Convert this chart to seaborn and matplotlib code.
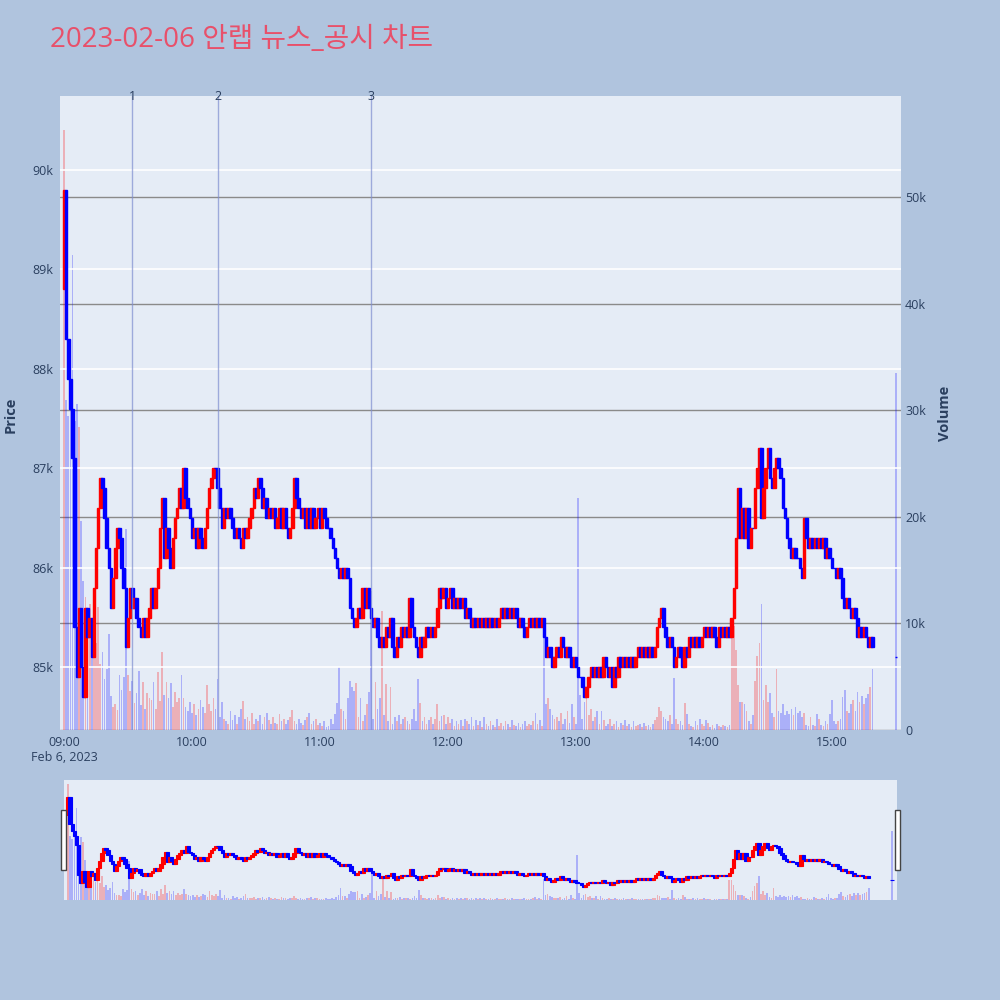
import numpy as np
import pandas as pd
import matplotlib
matplotlib.use('Agg')
import matplotlib.pyplot as plt
import seaborn as sns
from matplotlib.patches import Rectangle

TITLE = '2023-02-06 안랩 뉴스_공시 차트'

# minute bars from 09:00, prices in hundreds of won
first_open = 888
closes = [
  898, 883, 879, 876, 871, 854, 849, 856, 850, 847,
  856, 853, 855, 851, 858, 862, 866, 869, 868, 865,
  862, 860, 856, 859, 862, 864, 863, 860, 858, 852,
  855, 858, 856, 857, 855, 854, 853, 855, 853, 855,
  856, 858, 856, 858, 860, 864, 867, 861, 864, 862,
  860, 863, 865, 866, 868, 866, 870, 867, 866, 865,
  863, 864, 862, 864, 863, 862, 864, 866, 868, 869,
  870, 870, 868, 866, 864, 866, 865, 866, 865, 864,
  863, 864, 863, 862, 864, 863, 864, 865, 866, 868,
  867, 869, 868, 866, 867, 865, 866, 865, 866, 864,
  865, 866, 864, 866, 864, 863, 864, 866, 869, 867,
  866, 865, 866, 864, 866, 864, 866, 864, 865, 866,
  864, 866, 865, 864, 864, 863, 862, 861, 860, 859,
  860, 859, 860, 859, 856, 855, 854, 855, 856, 855,
  858, 856, 858, 856, 855, 854, 855, 853, 852, 853,
  852, 854, 853, 855, 852, 851, 853, 852, 854, 853,
  854, 853, 857, 854, 853, 852, 851, 853, 852, 853,
  854, 853, 854, 853, 854, 856, 858, 857, 858, 856,
  857, 858, 856, 857, 856, 857, 856, 857, 855, 856,
  855, 854, 855, 854, 855, 854, 855, 854, 855, 854,
  855, 854, 855, 854, 855, 856, 855, 856, 855, 856,
  855, 856, 855, 854, 855, 854, 853, 854, 855, 854,
  855, 854, 855, 854, 855, 853, 851, 852, 851, 850,
  851, 852, 851, 853, 852, 851, 852, 851, 850, 851,
  850, 849, 849, 848, 847, 848, 849, 850, 849, 850,
  849, 850, 849, 851, 850, 849, 850, 848, 850, 849,
  851, 850, 851, 850, 851, 850, 851, 850, 851, 852,
  851, 852, 851, 852, 851, 852, 851, 852, 854, 855,
  856, 854, 853, 852, 853, 852, 850, 851, 852, 851,
  850, 852, 851, 853, 852, 853, 852, 853, 852, 853,
  854, 853, 854, 853, 854, 853, 852, 854, 853, 854,
  853, 854, 853, 855, 858, 863, 868, 863, 866, 863,
  866, 862, 864, 864, 868, 870, 872, 865, 868, 870,
  872, 869, 868, 870, 871, 870, 869, 866, 865, 863,
  862, 861, 862, 861, 861, 860, 859, 865, 863, 862,
  863, 862, 863, 862, 863, 862, 863, 861, 862, 861,
  860, 860, 859, 860, 859, 857, 856, 857, 856, 855,
  856, 855, 853, 854, 853, 854, 853, 852, 853, 852,
]
# volume in hundreds of shares
volumes = [
  563, 310, 295, 320, 446, 290, 306, 284, 196, 140,
  125, 110, 118, 90, 108, 82, 115, 62, 73, 48,
  57, 90, 32, 22, 24, 19, 52, 38, 50, 189,
  52, 37, 46, 25, 35, 55, 23, 45, 20, 35,
  30, 28, 45, 20, 54, 27, 73, 33, 45, 30,
  44, 22, 36, 26, 30, 52, 30, 22, 18, 26,
  16, 24, 14, 20, 28, 22, 16, 42, 24, 18,
  30, 20, 48, 12, 26, 10, 8, 6, 18, 9,
  14, 6, 12, 20, 27, 10, 12, 8, 16, 6,
  10, 8, 14, 6, 12, 16, 9, 6, 12, 7,
  6, 15, 8, 10, 6, 9, 12, 19, 8, 6,
  10, 7, 5, 9, 12, 16, 6, 8, 10, 5,
  7, 4, 8, 3, 4, 10, 6, 15, 25, 59,
  20, 18, 10, 30, 46, 40, 37, 44, 12, 30,
  8, 14, 24, 36, 130, 10, 45, 20, 30, 112,
  14, 43, 8, 40, 6, 12, 8, 14, 6, 10,
  12, 8, 6, 10, 20, 8, 48, 25, 8, 12,
  6, 9, 12, 6, 10, 24, 8, 13, 14, 6,
  12, 7, 10, 4, 8, 6, 9, 4, 10, 8,
  6, 12, 4, 9, 5, 8, 3, 12, 6, 4,
  8, 5, 3, 10, 4, 7, 4, 8, 6, 3,
  9, 5, 4, 7, 3, 6, 8, 4, 6, 5,
  8, 16, 6, 9, 4, 100, 24, 30, 20, 14,
  10, 12, 8, 16, 6, 10, 18, 7, 24, 12,
  6, 218, 33, 10, 26, 30, 14, 20, 8, 12,
  18, 6, 18, 9, 4, 6, 10, 4, 6, 8,
  3, 7, 5, 9, 4, 6, 3, 8, 4, 5,
  6, 3, 7, 4, 5, 3, 6, 9, 12, 22,
  18, 12, 10, 8, 14, 6, 49, 10, 6, 8,
  5, 25, 15, 6, 4, 3, 8, 5, 10, 6,
  4, 9, 7, 3, 5, 2, 6, 4, 3, 5,
  4, 3, 5, 96, 98, 75, 42, 26, 26, 24,
  18, 8, 6, 14, 46, 69, 82, 118, 28, 42,
  26, 35, 16, 12, 57, 18, 16, 24, 14, 18,
  15, 20, 14, 22, 16, 18, 12, 16, 5, 4,
  12, 5, 4, 15, 10, 5, 4, 8, 6, 15,
  28, 8, 6, 8, 10, 31, 38, 18, 16, 24,
  28, 18, 36, 26, 32, 24, 30, 34, 40, 57,
]
# closing auction at 15:30
auction_minute = 390
auction_price = 851
auction_volume = 335

news_minutes = [32, 72, 144]
news_labels = ['1', '2', '3']

hour_ticks = [0, 60, 120, 180, 240, 300, 360]
hour_labels = ['09:00', '10:00', '11:00', '12:00', '13:00', '14:00', '15:00']
date_label = 'Feb 6, 2023'
price_ticks = [85000, 86000, 87000, 88000, 89000, 90000]
volume_ticks = [0, 10000, 20000, 30000, 40000, 50000]

assert len(closes) == len(volumes)

df = pd.DataFrame({'minute': np.arange(len(closes)), 'close': closes, 'volume': volumes})
df['open'] = df['close'].shift(1).fillna(first_open)
df = pd.concat([df, pd.DataFrame({'minute': [auction_minute], 'close': [auction_price],
                                  'volume': [auction_volume], 'open': [auction_price]})],
               ignore_index=True)
df['open'] *= 100
df['close'] *= 100
df['volume'] *= 100
df['up'] = df['close'] > df['open']

BG = '#b0c4de'
PLOT_BG = '#e5ecf6'
TXT = '#2a3f5f'
sns.set_theme(style='white')
plt.rcParams['font.family'] = ['Open Sans', 'Noto Sans CJK KR', 'DejaVu Sans']

fig = plt.figure(figsize=(10, 10), dpi=100, facecolor=BG)

candle_col = np.where(df['up'], '#ff0000', '#0000ff')
vol_col = [(1, 0, 0, 0.25) if u else (0, 0, 1, 0.25) for u in df['up']]
body_lo = df[['open', 'close']].min(axis=1)
body_h = (df['close'] - df['open']).abs()
XLIM = (-1.9, 392.4)


def draw(ax_p, ax_v, cw, vw, lw):
  ax_v.bar(df['minute'], df['volume'], width=vw, color=vol_col, linewidth=0)
  ax_p.bar(df['minute'], body_h, bottom=body_lo, width=cw, color=candle_col,
           edgecolor=candle_col, linewidth=lw)
  ax_p.set_xlim(*XLIM)
  ax_v.set_xlim(*XLIM)
  for a in (ax_p, ax_v):
    for s in a.spines.values():
      s.set_visible(False)


# main chart: volume axis underneath, price axis on top
ax_v = fig.add_axes([0.060, 0.270, 0.841, 0.634])
ax_v.set_facecolor(PLOT_BG)
ax = ax_v.twinx()
ax_v.yaxis.tick_right()
ax.yaxis.tick_left()
ax.set_zorder(ax_v.get_zorder() + 1)
ax.patch.set_visible(False)

draw(ax, ax_v, 1.2, 0.8, 1.0)
ax.set_ylim(84370, 90740)
ax_v.set_ylim(0, 59500)

ax.set_yticks(price_ticks)
ax.set_yticklabels([f'{v // 1000}k' for v in price_ticks])
ax_v.set_yticks(volume_ticks)
ax_v.set_yticklabels(['0'] + [f'{v // 1000}k' for v in volume_ticks[1:]])
ax_v.set_xticks(hour_ticks)
ax_v.set_xticklabels(hour_labels)
ax_v.text(hour_ticks[0], -0.0426, date_label, transform=ax_v.get_xaxis_transform(),
          ha='center', va='center', fontsize=9, color=TXT)
ax_v.grid(axis='x', visible=False)
ax_v.grid(axis='y', color='#8a8a8a', linewidth=1.0)
ax.grid(axis='y', color='white', linewidth=1.2)
ax.grid(axis='x', visible=False)
ax.tick_params(axis='y', length=0, labelsize=9, labelcolor=TXT, pad=5)
ax_v.tick_params(axis='y', length=0, labelsize=9, labelcolor=TXT, pad=3)
ax_v.tick_params(axis='x', length=0, labelsize=9, labelcolor=TXT, pad=4)
ax.set_axisbelow(True)
ax_v.set_axisbelow(True)

for m, lab in zip(news_minutes, news_labels):
  ax.axvline(m, color='#7f8fd0', alpha=0.7, linewidth=1)
  ax.text(m, 1.0, lab, transform=ax.get_xaxis_transform(), ha='center', va='center',
          fontsize=9, color=TXT)

fig.text(0.011, 0.585, 'Price', rotation=90, ha='center', va='center',
         fontsize=10.5, fontweight='bold', color=TXT)
fig.text(0.945, 0.587, 'Volume', rotation=90, ha='center', va='center',
         fontsize=10.5, fontweight='bold', color=TXT)
fig.text(0.05, 0.960, TITLE, ha='left', va='center', fontsize=20, color='#e8506a')

# range slider
sl_v = fig.add_axes([0.064, 0.100, 0.833, 0.120])
sl_v.set_facecolor(PLOT_BG)
sl = sl_v.twinx()
sl.set_zorder(sl_v.get_zorder() + 1)
sl.patch.set_visible(False)
draw(sl, sl_v, 1.6, 0.8, 0.8)
sl.set_ylim(83960, 90770)
sl_v.set_ylim(0, 58400)
for a in (sl, sl_v):
  a.set_xticks([])
  a.set_yticks([])
  a.grid(False)

for hx in (0.0613, 0.8953):
  fig.patches.append(Rectangle((hx, 0.130), 0.0044, 0.060, transform=fig.transFigure,
                               facecolor='white', edgecolor='#444444', linewidth=1))

fig.savefig('out.png', dpi=100, facecolor=BG)
